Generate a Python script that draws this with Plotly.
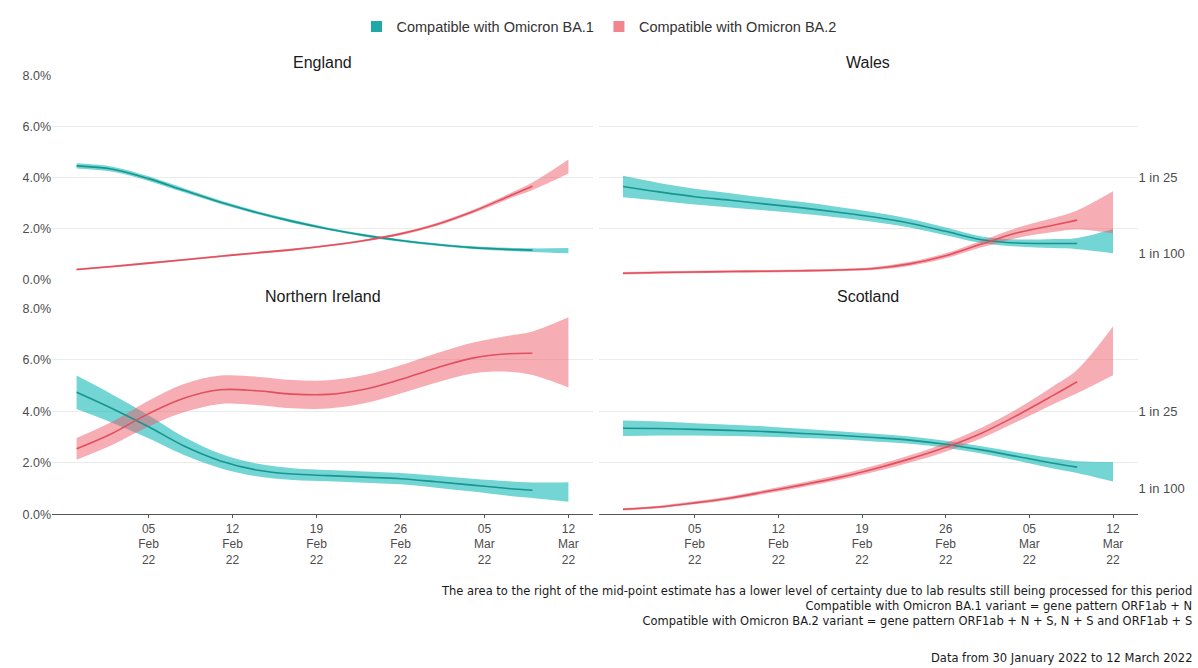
import plotly.graph_objects as go

W, H = 1198, 668

dates = ['2022-01-30', '2022-02-02', '2022-02-05', '2022-02-08', '2022-02-11',
         '2022-02-14', '2022-02-17', '2022-02-20', '2022-02-23', '2022-02-26',
         '2022-03-01', '2022-03-04', '2022-03-07', '2022-03-09', '2022-03-12']

tick_dates = ['2022-02-05', '2022-02-12', '2022-02-19', '2022-02-26', '2022-03-05', '2022-03-12']
tick_labels = ['05<br>Feb<br>22', '12<br>Feb<br>22', '19<br>Feb<br>22',
               '26<br>Feb<br>22', '05<br>Mar<br>22', '12<br>Mar<br>22']

y_ticks = [0, 2, 4, 6, 8]
y_labels = ['0.0%', '2.0%', '4.0%', '6.0%', '8.0%']
ratio_ticks = [1, 4]
ratio_labels = ['1 in 100', '1 in 25']

# England
eng_ba1_mid = [4.45, 4.32, 3.95, 3.48, 3.02, 2.62, 2.27, 1.97, 1.72, 1.52, 1.36, 1.24, 1.17, 1.14, None]
eng_ba1_lo = [4.35, 4.22, 3.86, 3.40, 2.95, 2.56, 2.21, 1.92, 1.67, 1.47, 1.31, 1.19, 1.11, 1.07, 1.02]
eng_ba1_hi = [4.55, 4.42, 4.04, 3.56, 3.09, 2.68, 2.33, 2.02, 1.77, 1.57, 1.41, 1.29, 1.23, 1.21, 1.22]
eng_ba2_mid = [0.38, 0.50, 0.63, 0.76, 0.90, 1.03, 1.16, 1.32, 1.52, 1.78, 2.15, 2.65, 3.25, 3.65, None]
eng_ba2_lo = [0.34, 0.46, 0.59, 0.72, 0.86, 0.99, 1.12, 1.28, 1.48, 1.73, 2.09, 2.58, 3.15, 3.50, 4.15]
eng_ba2_hi = [0.42, 0.54, 0.67, 0.80, 0.94, 1.07, 1.20, 1.36, 1.56, 1.83, 2.21, 2.72, 3.35, 3.80, 4.70]

# Wales
wal_ba1_mid = [3.64, 3.43, 3.24, 3.10, 2.95, 2.80, 2.63, 2.44, 2.20, 1.88, 1.55, 1.42, 1.40, 1.40, None]
wal_ba1_lo = [3.22, 3.08, 2.93, 2.82, 2.70, 2.57, 2.42, 2.25, 2.03, 1.73, 1.42, 1.28, 1.22, 1.18, 1.02]
wal_ba1_hi = [4.06, 3.78, 3.55, 3.38, 3.20, 3.03, 2.84, 2.63, 2.37, 2.03, 1.68, 1.56, 1.58, 1.62, 1.97]
wal_ba2_mid = [0.23, 0.26, 0.28, 0.30, 0.31, 0.33, 0.36, 0.42, 0.60, 0.92, 1.38, 1.82, 2.12, 2.32, None]
wal_ba2_lo = [0.18, 0.21, 0.23, 0.25, 0.26, 0.28, 0.31, 0.36, 0.52, 0.82, 1.25, 1.62, 1.85, 1.95, 1.80]
wal_ba2_hi = [0.28, 0.31, 0.33, 0.35, 0.36, 0.38, 0.41, 0.48, 0.68, 1.02, 1.51, 2.02, 2.40, 2.70, 3.45]

# Northern Ireland
ni_ba1_mid = [4.74, 4.10, 3.40, 2.64, 2.07, 1.72, 1.56, 1.50, 1.44, 1.38, 1.26, 1.13, 1.00, 0.93, None]
ni_ba1_lo = [4.09, 3.55, 2.95, 2.29, 1.79, 1.47, 1.33, 1.28, 1.22, 1.16, 1.03, 0.88, 0.72, 0.63, 0.48]
ni_ba1_hi = [5.39, 4.65, 3.85, 2.99, 2.35, 1.97, 1.79, 1.72, 1.66, 1.60, 1.49, 1.38, 1.28, 1.23, 1.24]
ni_ba2_mid = [2.54, 3.15, 3.91, 4.52, 4.84, 4.80, 4.67, 4.66, 4.86, 5.24, 5.69, 6.07, 6.24, 6.26, None]
ni_ba2_lo = [2.12, 2.70, 3.41, 3.97, 4.29, 4.25, 4.12, 4.11, 4.31, 4.69, 5.12, 5.47, 5.54, 5.41, 4.93]
ni_ba2_hi = [2.96, 3.60, 4.41, 5.07, 5.39, 5.35, 5.22, 5.21, 5.41, 5.79, 6.26, 6.67, 6.94, 7.11, 7.66]

# Scotland
sco_ba1_mid = [3.34, 3.33, 3.30, 3.26, 3.21, 3.14, 3.07, 2.98, 2.88, 2.72, 2.50, 2.24, 1.98, 1.83, None]
sco_ba1_lo = [3.04, 3.06, 3.06, 3.04, 3.01, 2.96, 2.91, 2.83, 2.74, 2.58, 2.36, 2.08, 1.78, 1.60, 1.27]
sco_ba1_hi = [3.64, 3.60, 3.54, 3.48, 3.41, 3.32, 3.23, 3.13, 3.02, 2.86, 2.64, 2.40, 2.18, 2.06, 2.03]
sco_ba2_mid = [0.19, 0.28, 0.44, 0.63, 0.88, 1.14, 1.42, 1.76, 2.15, 2.60, 3.15, 3.85, 4.62, 5.15, None]
sco_ba2_lo = [0.14, 0.23, 0.38, 0.56, 0.80, 1.05, 1.32, 1.64, 2.01, 2.43, 2.95, 3.60, 4.28, 4.70, 5.40]
sco_ba2_hi = [0.24, 0.33, 0.50, 0.70, 0.96, 1.23, 1.52, 1.88, 2.29, 2.77, 3.36, 4.10, 4.98, 5.62, 7.30]

footnote_lines = [
    'The area to the right of the mid-point estimate has a lower level of certainty due to lab results still being processed for this period',
    'Compatible with Omicron BA.1 variant = gene pattern ORF1ab + N',
    'Compatible with Omicron BA.2 variant = gene pattern ORF1ab + N + S, N + S and ORF1ab + S',
]
data_note = 'Data from 30 January 2022 to 12 March 2022'

panels = [
    ('England', 'x', 'y', eng_ba1_mid, eng_ba1_lo, eng_ba1_hi, eng_ba2_mid, eng_ba2_lo, eng_ba2_hi),
    ('Wales', 'x2', 'y2', wal_ba1_mid, wal_ba1_lo, wal_ba1_hi, wal_ba2_mid, wal_ba2_lo, wal_ba2_hi),
    ('Northern Ireland', 'x3', 'y3', ni_ba1_mid, ni_ba1_lo, ni_ba1_hi, ni_ba2_mid, ni_ba2_lo, ni_ba2_hi),
    ('Scotland', 'x4', 'y4', sco_ba1_mid, sco_ba1_lo, sco_ba1_hi, sco_ba2_mid, sco_ba2_lo, sco_ba2_hi),
]

TEAL_FILL = 'rgba(0,178,176,0.55)'
TEAL_LINE = '#17958F'
PINK_FILL = 'rgba(240,92,106,0.50)'
PINK_LINE = '#E0505E'
TEAL_KEY = '#20A8A6'
PINK_KEY = '#F08590'

fig = go.Figure()

# legend keys first
fig.add_trace(go.Scatter(x=[None], y=[None], mode='markers', name='Compatible with Omicron BA.1',
                         marker=dict(symbol='square', size=11, color=TEAL_KEY)))
fig.add_trace(go.Scatter(x=[None], y=[None], mode='markers', name='Compatible with Omicron BA.2',
                         marker=dict(symbol='square', size=11, color=PINK_KEY)))

for name, xa, ya, m1, l1, h1, m2, l2, h2 in panels:
    for lo, hi, fillc in [(l1, h1, TEAL_FILL), (l2, h2, PINK_FILL)]:
        fig.add_trace(go.Scatter(x=dates, y=lo, xaxis=xa, yaxis=ya, mode='lines',
                                 line=dict(width=0, shape='spline', smoothing=1.0),
                                 showlegend=False, hoverinfo='skip'))
        fig.add_trace(go.Scatter(x=dates, y=hi, xaxis=xa, yaxis=ya, mode='lines',
                                 line=dict(width=0, shape='spline', smoothing=1.0),
                                 fill='tonexty', fillcolor=fillc,
                                 showlegend=False, hoverinfo='skip'))
    for mid, lc in [(m1, TEAL_LINE), (m2, PINK_LINE)]:
        fig.add_trace(go.Scatter(x=dates, y=mid, xaxis=xa, yaxis=ya, mode='lines',
                                 line=dict(width=1.6, color=lc, shape='spline', smoothing=1.0),
                                 showlegend=False, hoverinfo='skip'))

# invisible traces to hold right-side ratio axes
fig.add_trace(go.Scatter(x=[None], y=[None], xaxis='x2', yaxis='y5', showlegend=False, hoverinfo='skip'))
fig.add_trace(go.Scatter(x=[None], y=[None], xaxis='x4', yaxis='y6', showlegend=False, hoverinfo='skip'))


def px_x(p):
    return p / W


def px_y(p):
    return 1 - p / H


xL = [px_x(52), px_x(593)]
xR = [px_x(598.5), px_x(1137.5)]
yT = [px_y(278), px_y(70)]
yB = [px_y(518), px_y(308)]

x_range = ['2022-01-27 22:48', '2022-03-14 01:12']
FONT = 'Liberation Sans, Arial, sans-serif'
GRID = '#EBEBEB'
TICKC = '#4D4D4D'

xcommon = dict(type='date', range=x_range, showgrid=False, zeroline=False,
               tickvals=tick_dates, ticktext=tick_labels,
               tickfont=dict(family=FONT, size=12, color=TICKC))
xtop = dict(xcommon, showticklabels=False, ticks='', showline=False)
xbot = dict(xcommon, showticklabels=True, ticks='outside', ticklen=3, tickcolor='#555555',
            showline=True, linecolor='#555555', linewidth=1)

ycommon = dict(range=[0, 8], tickvals=y_ticks, ticktext=y_labels, showgrid=True,
               gridcolor=GRID, gridwidth=1, zeroline=False, ticks='',
               tickfont=dict(family=FONT, size=12.5, color=TICKC))

ratio_axis = dict(range=[0, 8], side='right', showgrid=False, zeroline=False, ticks='',
                  tickvals=ratio_ticks, ticktext=ratio_labels,
                  tickfont=dict(family=FONT, size=13, color=TICKC))

fig.update_layout(
    width=W, height=H,
    margin=dict(l=0, r=0, t=0, b=0),
    paper_bgcolor='white', plot_bgcolor='white',
    font=dict(family=FONT, color='#333333'),
    xaxis=dict(xtop, domain=xL, anchor='y'),
    xaxis2=dict(xtop, domain=xR, anchor='y2'),
    xaxis3=dict(xbot, domain=xL, anchor='y3'),
    xaxis4=dict(xbot, domain=xR, anchor='y4'),
    yaxis=dict(ycommon, domain=yT, anchor='x', showticklabels=True),
    yaxis2=dict(ycommon, domain=yT, anchor='x2', showticklabels=False),
    yaxis3=dict(ycommon, domain=yB, anchor='x3', showticklabels=True),
    yaxis4=dict(ycommon, domain=yB, anchor='x4', showticklabels=False),
    yaxis5=dict(ratio_axis, overlaying='y2', anchor='x2'),
    yaxis6=dict(ratio_axis, overlaying='y4', anchor='x4'),
    legend=dict(orientation='h', x=0.5, xanchor='center', y=px_y(20), yanchor='middle',
                traceorder='normal', font=dict(family=FONT, size=14.5, color='#333333'),
                itemwidth=30, bgcolor='rgba(0,0,0,0)'),
    showlegend=True,
)

titles = [('England', (52 + 593) / 2, 57), ('Wales', (598.5 + 1137.5) / 2, 57),
          ('Northern Ireland', (52 + 593) / 2, 296), ('Scotland', (598.5 + 1137.5) / 2, 296)]
for t, xp, yp in titles:
    fig.add_annotation(text=t, xref='paper', yref='paper', x=px_x(xp), y=px_y(yp),
                       xanchor='center', yanchor='middle', showarrow=False,
                       font=dict(family=FONT, size=16, color='#1A1A1A'))

NOTE_FONT = dict(family='DejaVu Sans, Liberation Sans, sans-serif', size=11.5, color='#1A1A1A')
fig.add_annotation(text='<br>'.join(footnote_lines), xref='paper', yref='paper',
                   x=px_x(1194), y=px_y(612), xanchor='right', yanchor='middle', align='right',
                   showarrow=False, font=NOTE_FONT)
fig.add_annotation(text=data_note, xref='paper', yref='paper',
                   x=px_x(1194), y=px_y(665), xanchor='right', yanchor='middle', align='right',
                   showarrow=False, font=NOTE_FONT)

fig.write_html('out.html')
